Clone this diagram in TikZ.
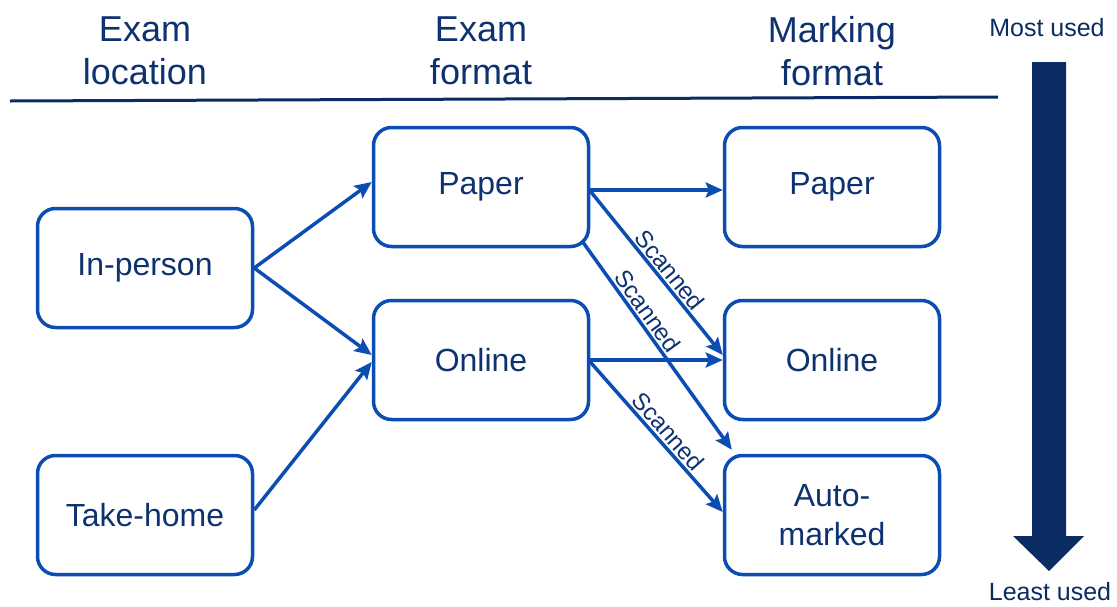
\documentclass[tikz,border=0pt]{standalone}
\usepackage{fontspec}
\setmainfont{Liberation Sans}
\usepackage{tikz}
\usetikzlibrary{arrows.meta, calc, positioning}
\definecolor{boxblue}{HTML}{0B4DB3}
\definecolor{txtblue}{HTML}{0E3170}
\definecolor{navy}{HTML}{0B2C63}

\begin{document}
\begin{tikzpicture}[
		x=1pt, y=-1pt,
		box/.style={draw=boxblue, line width=3.5pt, rounded corners=18pt, minimum width=215pt, minimum height=119pt, text=txtblue, align=center, font=\fontsize{32}{39}\selectfont},
		head/.style={text=txtblue, align=center, font=\fontsize{36}{43}\selectfont},
		usage/.style={text=navy, font=\fontsize{25}{28}\selectfont},
		flow/.style={draw=boxblue, line width=3.5pt, -{Stealth[length=17pt, width=15pt, inset=3pt]}},
		scan/.style={sloped, above, inner sep=2pt, text=txtblue, font=\fontsize{24}{28}\selectfont}
		]
	
		\useasboundingbox (0,0) rectangle (1117,606);
	
		% --- En-têtes ---
		\node[head] (hloc) at (145,51) {Exam\\location};
		\node[head] (hexam) at (481,51) {Exam\\format};
		\node[head] (hmark) at (832,51) {Marking\\format};
		\coordinate (rl) at (10,101);
		\coordinate (rr) at (998,97);
		\draw[navy, line width=3pt] (rl) -- (rr);
	
		% --- Les boîtes ---
		\node[box] (inperson) at (145,268) {In-person};
		\node[box] (takehome) at (145,515) {Take-home};
		\node[box] (paperF) at (481,187) {Paper};
		\node[box] (onlineF) at (481,360) {Online};
		\node[box] (paperM) at (832,187) {Paper};
		\node[box] (onlineM) at (832,360) {Online};
		\node[box] (autoM) at (832,515) {Auto-\\marked};
	
		% --- Flèches ---
		\draw[flow] (inperson.east) -- ([yshift=5pt]paperF.west);
		\draw[flow] (inperson.east) -- ([yshift=5pt]onlineF.west);
		\draw[flow] ([yshift=5pt]takehome.east) -- ([yshift=-2pt]onlineF.west);
		\draw[flow] ([yshift=-3pt]paperF.east) -- ([yshift=-3pt]paperM.west);
		\draw[flow] ([yshift=-4pt]paperF.east) -- node[scan, pos=.53] {Scanned} ([yshift=5pt]onlineM.west);
		\draw[flow] ([xshift=-8pt, yshift=7pt]paperF.south east) -- node[scan, pos=.37] {Scanned} ([xshift=9pt, yshift=4pt]autoM.north west);
		\draw[flow] (onlineF.east) -- (onlineM.west);
		\draw[flow] ([yshift=-2pt]onlineF.east) -- node[scan, pos=.52] {Scanned} ([yshift=3pt]autoM.west);
	
		% --- Échelle d'usage (à droite) ---
		\node[usage] (most) at (1047,28) {Most used};
		\node[usage] (least) at (1050,592) {Least used};
		\fill[navy] (1032,62) -- (1066,62) -- (1066,536) -- (1084,536) -- (1049,571) -- (1013,536) -- (1032,536) -- cycle;
	
	\end{tikzpicture}
\end{document}
